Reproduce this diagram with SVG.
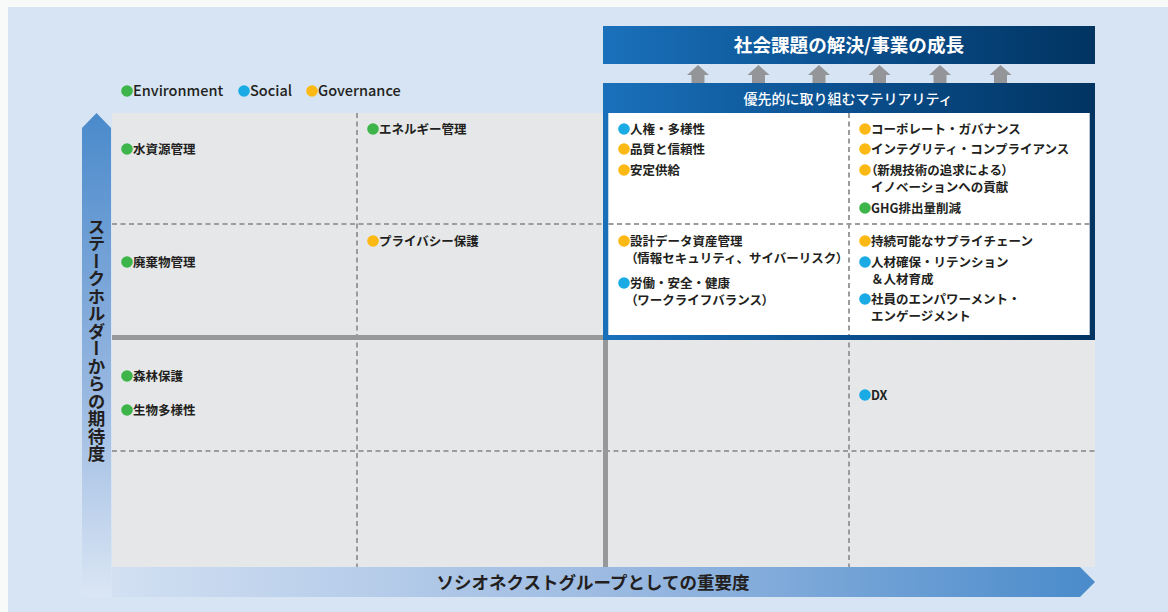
<svg xmlns="http://www.w3.org/2000/svg" width="1168" height="612" viewBox="0 0 1168 612">
<defs>
<linearGradient id="gBlue" x1="0" y1="0" x2="1" y2="0">
<stop offset="0" stop-color="#1a71bb"/>
<stop offset="0.5" stop-color="#0a4f8e"/>
<stop offset="1" stop-color="#013461"/>
</linearGradient>
<linearGradient id="gV" x1="0" y1="0" x2="0" y2="1">
<stop offset="0" stop-color="#4a8acb"/>
<stop offset="0.55" stop-color="#94b5e0"/>
<stop offset="1" stop-color="#dbe6f4"/>
</linearGradient>
<linearGradient id="gH" x1="0" y1="0" x2="1" y2="0">
<stop offset="0" stop-color="#d2e0f2"/>
<stop offset="0.5" stop-color="#9dbbe2"/>
<stop offset="1" stop-color="#4a8bcb"/>
</linearGradient>
<style>
text{font-family:"Noto Sans CJK JP","Noto Sans",sans-serif;fill:#231f20}
.it{font-size:12.5px;font-weight:700}
.p{font-feature-settings:"palt"}
.lg{font-size:14.5px;font-weight:500}
.ax{font-size:17.5px;font-weight:700}
.dash{stroke:#9b9c9e;stroke-width:2;stroke-dasharray:5 3.5;fill:none}
.thick{stroke:#97989a;stroke-width:5;fill:none}
.e{fill:#3db54a}.s{fill:#1aabe5}.g{fill:#fdb913}
.up{fill:#939598}
</style>
</defs>
<rect x="0" y="0" width="1168" height="612" fill="#f8f9f9"/>
<rect x="8" y="7" width="1160" height="605" fill="#d6e4f3"/>
<!-- grid -->
<rect x="112" y="113" width="983" height="454" fill="#e5e7e9"/>
<g id="connectors">
<line class="dash" x1="357" y1="113" x2="357" y2="567"/>
<line class="dash" x1="849" y1="113" x2="849" y2="567"/>
<line class="dash" x1="112" y1="224" x2="1095" y2="224"/>
<line class="dash" x1="112" y1="451" x2="1095" y2="451"/>
<line class="thick" x1="112" y1="337.5" x2="608" y2="337.5"/>
<line class="thick" x1="605.5" y1="337" x2="605.5" y2="567"/>
</g>
<!-- axes -->
<g id="axis-y">
<polygon points="82,128 96.5,113 111,128 111,597 82,597" fill="url(#gV)"/>
<text class="ax" x="96.5" y="340" text-anchor="middle" style="writing-mode:vertical-rl" font-size="18.3">ステークホルダーからの期待度</text>
</g>
<g id="axis-x">
<polygon points="112,567 1080,567 1095,582 1080,597 112,597" fill="url(#gH)"/>
<text class="ax" x="593" y="588.5" text-anchor="middle">ソシオネクストグループとしての重要度</text>
</g>
<!-- top banner -->
<g id="banner">
<rect x="603" y="26" width="492" height="38" fill="url(#gBlue)"/>
<text x="849" y="51.5" text-anchor="middle" font-size="18.6" font-weight="700" style="fill:#fff">社会課題の解決/事業の成長</text>
</g>
<g id="up-arrows">
<polygon class="up" points="698,65 709,75 704.5,75 704.5,83 691.5,83 691.5,75 687,75"/>
<polygon class="up" points="758.5,65 769.5,75 765,75 765,83 752,83 752,75 747.5,75"/>
<polygon class="up" points="819,65 830,75 825.5,75 825.5,83 812.5,83 812.5,75 808,75"/>
<polygon class="up" points="879.5,65 890.5,75 886,75 886,83 873,83 873,75 868.5,75"/>
<polygon class="up" points="940,65 951,75 946.5,75 946.5,83 933.5,83 933.5,75 929,75"/>
<polygon class="up" points="1000.5,65 1011.5,75 1007,75 1007,83 994,83 994,75 989.5,75"/>
</g>
<!-- materiality box -->
<g id="materiality">
<path d="M603,83 H1095 V340 H603 Z M608.5,113 V335 H1089.5 V113 Z" fill="url(#gBlue)" fill-rule="evenodd"/>
<rect x="608.5" y="113" width="481" height="222" fill="#fff"/>
<text x="848" y="104" text-anchor="middle" font-size="14" font-weight="500" style="fill:#fff">優先的に取り組むマテリアリティ</text>
<line class="dash" x1="849" y1="113" x2="849" y2="335"/>
<line class="dash" x1="608.5" y1="224" x2="1089.5" y2="224"/>
</g>
<!-- legend -->
<g id="legend">
<circle class="e" cx="127" cy="91" r="5.8"/><text class="lg" x="133" y="96">Environment</text>
<circle class="s" cx="244" cy="91" r="5.8"/><text class="lg" x="250" y="96">Social</text>
<circle class="g" cx="312" cy="91" r="5.8"/><text class="lg" x="318" y="96">Governance</text>
</g>
<!-- items -->
<g id="n-water"><circle class="e" cx="127" cy="149" r="5.8"/><text class="it" x="133" y="153.5">水資源管理</text></g>
<g id="n-waste"><circle class="e" cx="127" cy="262" r="5.8"/><text class="it" x="133" y="266.5">廃棄物管理</text></g>
<g id="n-forest"><circle class="e" cx="127" cy="376" r="5.8"/><text class="it" x="133" y="380.5">森林保護</text></g>
<g id="n-bio"><circle class="e" cx="127" cy="410" r="5.8"/><text class="it" x="133" y="414.5">生物多様性</text></g>
<g id="n-energy"><circle class="e" cx="373" cy="129" r="5.8"/><text class="it" x="379" y="133.5">エネルギー管理</text></g>
<g id="n-privacy"><circle class="g" cx="373" cy="241" r="5.8"/><text class="it" x="379" y="245.5">プライバシー保護</text></g>
<g id="n-human"><circle class="s" cx="624" cy="129" r="5.8"/><text class="it" x="630" y="133.5">人権・多様性</text></g>
<g id="n-quality"><circle class="g" cx="624" cy="149" r="5.8"/><text class="it" x="630" y="153.5">品質と信頼性</text></g>
<g id="n-supply"><circle class="g" cx="624" cy="170" r="5.8"/><text class="it" x="630" y="174.5">安定供給</text></g>
<g id="n-data"><circle class="g" cx="624" cy="241" r="5.8"/><text class="it" x="630" y="245.5">設計データ資産管理</text><text class="it" x="631" y="262.5"><tspan class="p">（</tspan>情報セキュリティ、サイバーリスク<tspan class="p">）</tspan></text></g>
<g id="n-labor"><circle class="s" cx="624" cy="283" r="5.8"/><text class="it" x="630" y="287.5">労働・安全・健康</text><text class="it" x="631" y="304.5"><tspan class="p">（</tspan>ワークライフバランス<tspan class="p">）</tspan></text></g>
<g id="n-gov"><circle class="g" cx="865" cy="129" r="5.8"/><text class="it" x="871" y="133.5">コーポレート・ガバナンス</text></g>
<g id="n-integrity"><circle class="g" cx="865" cy="149" r="5.8"/><text class="it" x="871" y="153.5">インテグリティ・コンプライアンス</text></g>
<g id="n-innov"><circle class="g" cx="865" cy="170" r="5.8"/><text class="it" x="871" y="174.5"><tspan class="p">（</tspan>新規技術の追求による<tspan class="p">）</tspan></text><text class="it" x="871" y="191.5">イノベーションへの貢献</text></g>
<g id="n-ghg"><circle class="e" cx="865" cy="208" r="5.8"/><text class="it" x="871" y="212.5">GHG排出量削減</text></g>
<g id="n-chain"><circle class="g" cx="865" cy="241" r="5.8"/><text class="it" x="871" y="245.5">持続可能なサプライチェーン</text></g>
<g id="n-talent"><circle class="s" cx="865" cy="262" r="5.8"/><text class="it" x="871" y="266.5">人材確保・リテンション</text><text class="it" x="871" y="283.5">＆人材育成</text></g>
<g id="n-engage"><circle class="s" cx="865" cy="299" r="5.8"/><text class="it" x="871" y="303.5">社員のエンパワーメント・</text><text class="it" x="871" y="321">エンゲージメント</text></g>
<g id="n-dx"><circle class="s" cx="865" cy="395" r="5.8"/><text class="it" x="871" y="399.5" font-weight="500">DX</text></g>
</svg>
